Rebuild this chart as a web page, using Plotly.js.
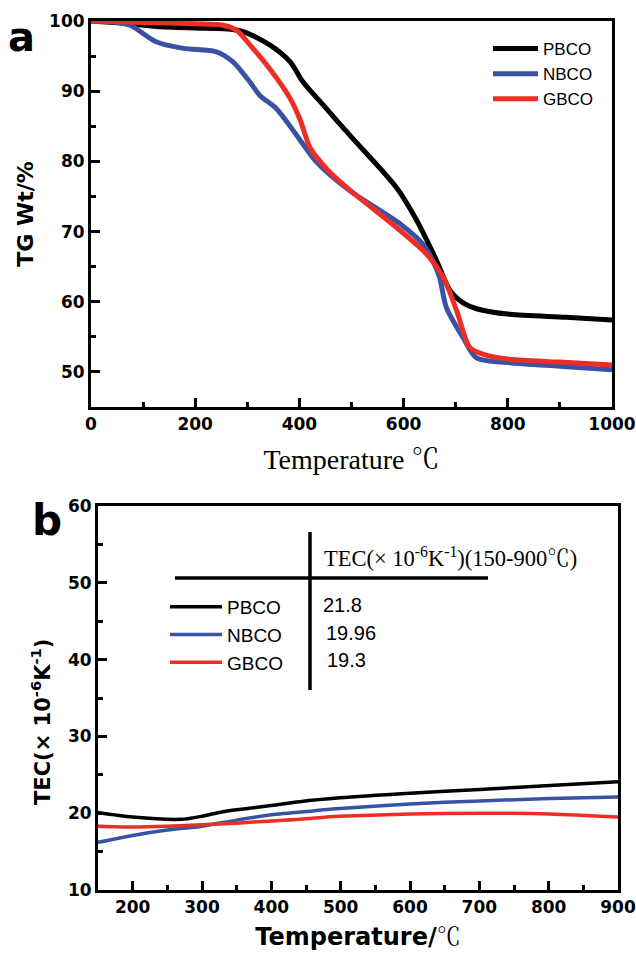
<!DOCTYPE html>
<html>
<head>
<meta charset="utf-8">
<script src="https://cdn.plot.ly/plotly-3.0.1.min.js"></script>
<style>html,body{margin:0;padding:0;background:#fff;}</style>
</head>
<body>
<div id="chart" style="width:636px;height:955px;"></div>
<script>
// ---- Panel a: TG curves ----
const seriesNames = ['PBCO', 'NBCO', 'GBCO'];
const seriesColors = ['#000000', '#3a52a3', '#ee2e24'];

const tgTempPBCO = [0, 60, 126, 200, 254, 292, 343, 382, 407, 446, 497, 586, 625, 663, 689, 715, 740, 804, 912, 1000];
const tgWtPBCO   = [100, 99.7, 99.2, 99.0, 98.9, 98.5, 96.6, 94.2, 91.3, 88.0, 83.7, 76.3, 71.6, 65.9, 61.6, 59.8, 59.0, 58.2, 57.8, 57.4];

const tgTempNBCO = [0, 40, 75, 126, 177, 241, 272, 305, 324, 356, 395, 433, 497, 593, 637, 655, 669, 682, 714, 740, 804, 900, 1000];
const tgWtNBCO   = [100, 99.9, 99.4, 97.0, 96.1, 95.6, 94.2, 91.3, 89.4, 87.5, 83.7, 79.9, 75.8, 71.1, 68.2, 66.0, 63.5, 59.2, 54.9, 52.0, 51.3, 50.8, 50.3];

const tgTempGBCO = [0, 100, 200, 254, 279, 305, 343, 382, 401, 420, 433, 458, 497, 586, 644, 676, 702, 727, 753, 804, 900, 1000];
const tgWtGBCO   = [100, 99.8, 99.6, 99.4, 98.7, 96.6, 93.2, 89.0, 86.0, 82.0, 80.6, 78.5, 75.9, 70.6, 66.8, 63.5, 58.7, 53.5, 52.5, 51.8, 51.4, 51.0];

// ---- Panel b: TEC curves ----
const tecTempPBCO = [150, 200, 270, 300, 330, 400, 441, 499, 600, 701, 802, 900];
const tecPBCO     = [20.1, 19.5, 19.2, 19.6, 20.2, 21.0, 21.5, 22.0, 22.6, 23.1, 23.6, 24.1];
const tecTempNBCO = [150, 200, 250, 300, 350, 400, 460, 499, 600, 701, 802, 900];
const tecNBCO     = [16.2, 17.1, 17.8, 18.3, 19.1, 19.8, 20.3, 20.6, 21.2, 21.6, 21.9, 22.1];
const tecTempGBCO = [150, 200, 250, 300, 350, 400, 441, 480, 499, 600, 701, 802, 900];
const tecGBCO     = [18.3, 18.2, 18.3, 18.5, 18.7, 19.0, 19.2, 19.5, 19.6, 19.9, 20.0, 19.9, 19.5];

const tecAverage = ['21.8', '19.96', '19.3'];
const tableHeader = 'TEC(\u00D7 10<sup>-6</sup>K<sup>-1</sup>)(150-900\u2103)';
const tecAxisTitle = '<b>TEC(\u00D7 10<sup>-6</sup>K<sup>-1</sup>)</b>';

const W = 636, H = 955;
const px = v => v / W;
const py = v => 1 - v / H;

const tgT = [tgTempPBCO, tgTempNBCO, tgTempGBCO];
const tgW = [tgWtPBCO, tgWtNBCO, tgWtGBCO];
const tcT = [tecTempPBCO, tecTempNBCO, tecTempGBCO];
const tcV = [tecPBCO, tecNBCO, tecGBCO];

const traces = [];
for (let i = 0; i < 3; i++) {
  traces.push({
    x: tgT[i], y: tgW[i], xaxis: 'x', yaxis: 'y', type: 'scatter', mode: 'lines',
    name: seriesNames[i], legend: 'legend',
    line: {color: seriesColors[i], width: 5, shape: 'spline', smoothing: 0.8}
  });
}
for (let i = 0; i < 3; i++) {
  traces.push({
    x: tcT[i], y: tcV[i], xaxis: 'x2', yaxis: 'y2', type: 'scatter', mode: 'lines',
    name: seriesNames[i], legend: 'legend2',
    line: {color: seriesColors[i], width: 3.5, shape: 'spline', smoothing: 0.8}
  });
}
// empty traces so the minor-tick overlay axes are drawn
[['x3', 'y'], ['x', 'y3'], ['x4', 'y2'], ['x2', 'y4']].forEach(([xa, ya]) => {
  traces.push({x: [], y: [], xaxis: xa, yaxis: ya, type: 'scatter', mode: 'lines',
    showlegend: false, hoverinfo: 'skip'});
});

const tickFont = {family: 'DejaVu Sans', size: 17, color: '#000', weight: 'bold'};
const axBase = {
  showline: true, linewidth: 3, linecolor: '#000', mirror: true,
  ticks: 'inside', ticklen: 9, tickwidth: 3, tickcolor: '#000',
  showgrid: false, zeroline: false, tickfont: tickFont
};
const minorAx = {
  showline: false, showgrid: false, zeroline: false, showticklabels: false,
  ticks: 'inside', ticklen: 5, tickwidth: 2.5, tickcolor: '#000'
};

const annotations = [
  {text: '<b>a</b>', xref: 'paper', yref: 'paper', x: px(6), y: py(12), xanchor: 'left', yanchor: 'top',
   showarrow: false, font: {family: 'DejaVu Sans', size: 40, color: '#000'}},
  {text: '<b>b</b>', xref: 'paper', yref: 'paper', x: px(30), y: py(494), xanchor: 'left', yanchor: 'top',
   showarrow: false, font: {family: 'DejaVu Sans', size: 42, color: '#000'}},
  {text: tableHeader, xref: 'paper', yref: 'paper', x: px(322), y: py(557), xanchor: 'left', yanchor: 'middle',
   showarrow: false, font: {family: 'Liberation Serif, Noto Serif CJK SC, Noto Sans CJK SC', size: 22.5, color: '#000'}},
  {text: tecAxisTitle, xref: 'paper', yref: 'paper', x: px(41), y: py(722), xanchor: 'center', yanchor: 'middle',
   textangle: -90, showarrow: false, font: {family: 'DejaVu Sans', size: 21, color: '#000'}}
];
const rowY = [605, 633, 660];
const rowX = [321, 324, 325];
for (let i = 0; i < 3; i++) {
  annotations.push({text: tecAverage[i], xref: 'paper', yref: 'paper', x: px(rowX[i]), y: py(rowY[i]),
    xanchor: 'left', yanchor: 'middle', showarrow: false,
    font: {family: 'Liberation Sans', size: 20, color: '#000'}});
}

const layout = {
  width: W, height: H,
  margin: {l: 0, r: 0, t: 0, b: 0},
  paper_bgcolor: '#fff', plot_bgcolor: '#fff',
  xaxis: Object.assign({}, axBase, {
    domain: [px(91), px(612)], range: [0, 1000], anchor: 'y', dtick: 200, tick0: 0,
    title: {text: 'Temperature \u2103', standoff: 16,
      font: {family: 'Liberation Serif, Noto Serif CJK SC, Noto Sans CJK SC', size: 28, color: '#000'}}
  }),
  yaxis: Object.assign({}, axBase, {
    domain: [py(407), py(21)], range: [45, 100], anchor: 'x', dtick: 10, tick0: 50,
    title: {text: 'TG Wt/%', standoff: 10, font: {family: 'DejaVu Sans', size: 22, color: '#000', weight: 'bold'}}
  }),
  xaxis3: Object.assign({}, minorAx, {overlaying: 'x', anchor: 'y', side: 'bottom', range: [0, 1000], tick0: 100, dtick: 200}),
  yaxis3: Object.assign({}, minorAx, {overlaying: 'y', anchor: 'x', side: 'left', range: [45, 100], tick0: 45, dtick: 10}),
  xaxis2: Object.assign({}, axBase, {
    domain: [px(98), px(618)], range: [150, 900], anchor: 'y2', dtick: 100, tick0: 0,
    title: {text: 'Temperature/<span style="font-family:Liberation Serif, Noto Serif CJK SC;font-weight:normal">\u2103</span>', standoff: 12,
      font: {family: 'DejaVu Sans', size: 24, color: '#000', weight: 'bold'}}
  }),
  yaxis2: Object.assign({}, axBase, {
    domain: [py(890), py(506)], range: [10, 60], anchor: 'x2', dtick: 10, tick0: 0
  }),
  xaxis4: Object.assign({}, minorAx, {overlaying: 'x2', anchor: 'y2', side: 'bottom', range: [150, 900], tick0: 150, dtick: 100}),
  yaxis4: Object.assign({}, minorAx, {overlaying: 'y2', anchor: 'x2', side: 'left', range: [10, 60], tick0: 15, dtick: 10}),
  legend: {
    x: px(488), y: py(31), xanchor: 'left', yanchor: 'top', bgcolor: 'rgba(0,0,0,0)',
    borderwidth: 0, itemwidth: 45, font: {family: 'Liberation Sans', size: 17, color: '#000'}
  },
  legend2: {
    x: px(165), y: py(588), xanchor: 'left', yanchor: 'top', bgcolor: 'rgba(0,0,0,0)',
    borderwidth: 0, itemwidth: 52, font: {family: 'Liberation Sans', size: 19, color: '#000'}
  },
  shapes: [
    {type: 'line', xref: 'paper', yref: 'paper', x0: px(175), x1: px(488), y0: py(578), y1: py(578),
     line: {color: '#000', width: 3.5}},
    {type: 'line', xref: 'paper', yref: 'paper', x0: px(310), x1: px(310), y0: py(532), y1: py(690),
     line: {color: '#000', width: 3.5}}
  ],
  annotations: annotations
};

Plotly.newPlot('chart', traces, layout, {displayModeBar: false});
</script>
</body>
</html>
